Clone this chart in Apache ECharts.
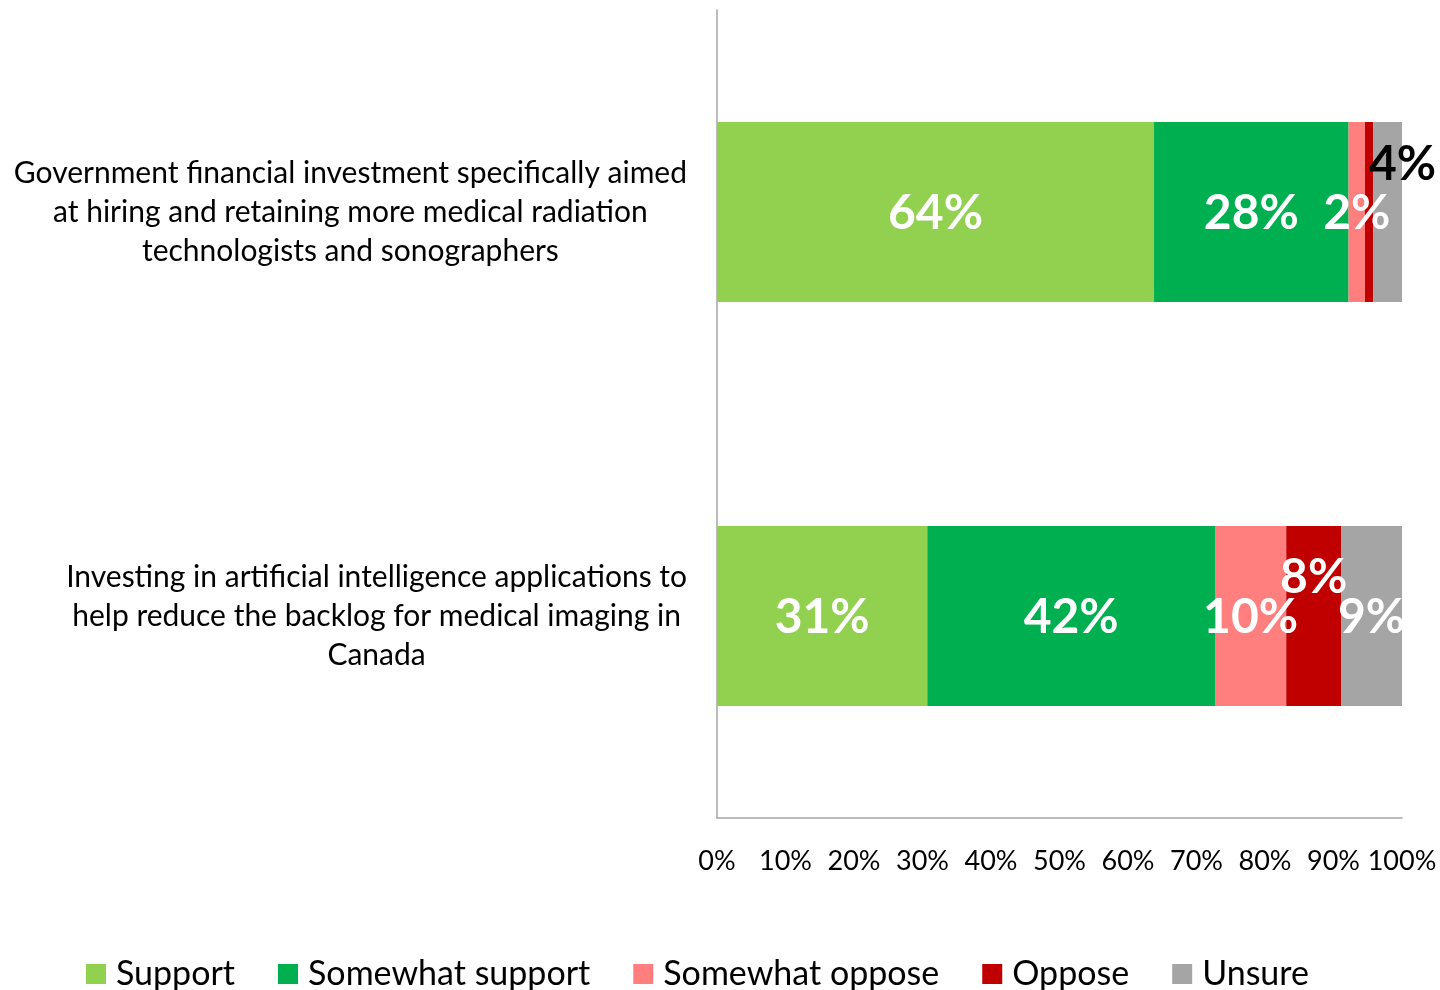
<!DOCTYPE html>
<html>
<head>
    <meta charset="utf-8"/>
    <title></title>
    <script src="https://cdn.jsdelivr.net/npm/echarts@6/dist/echarts.min.js"></script>
</head>
<body style="margin:0">
<div id="chart" style="width:1440px;height:990px;"></div>
<script type="text/javascript">

var categories = [
    'Government financial investment specifically aimed\nat hiring and retaining more medical radiation\ntechnologists and sonographers',
    'Investing in artificial intelligence applications to\nhelp reduce the backlog for medical imaging in\nCanada'
];
var seriesNames = ['Support', 'Somewhat support', 'Somewhat oppose', 'Oppose', 'Unsure'];
var support = [63.8, 30.7];
var somewhatSupport = [28.4, 42.0];
var somewhatOppose = [2.4, 10.4];
var oppose = [1.2, 8.0];
var unsure = [4.2, 8.9];
var tickLabels = ['0%', '10%', '20%', '30%', '40%', '50%', '60%', '70%', '80%', '90%', '100%'];

var colors = ['#92D050', '#00B050', '#FF7F7F', '#C00000', '#A5A5A5'];
var font = 'Lato';

// per-point label tweaks, the way Excel placed them
var labelTweaks = {
    '3-0': { show: false },
    '4-0': { color: '#000', offset: [15, -47] },
    '3-1': { offset: [0, -38] }
};

function buildData(values, si) {
    return values.map(function (v, i) {
        var item = { value: v };
        var t = labelTweaks[si + '-' + i];
        if (t) item.label = t;
        return item;
    });
}

var allValues = [support, somewhatSupport, somewhatOppose, oppose, unsure];
var series = allValues.map(function (vals, si) {
    return {
        name: seriesNames[si],
        type: 'bar',
        stack: 'total',
        barWidth: 180,
        data: buildData(vals, si),
        itemStyle: { color: colors[si] },
        label: {
            show: true,
            position: 'inside',
            offset: [0, 2],
            color: '#fff',
            fontFamily: font,
            fontWeight: 'bold',
            fontSize: 48,
            formatter: function (p) { return Math.round(p.value) + '%'; }
        }
    };
});

var chart = echarts.init(document.getElementById('chart'));
var option = {
    animation: false,
    textStyle: { fontFamily: font },
    grid: { left: 717, right: 38, top: 10, bottom: 172 },
    legend: {
        bottom: -6,
        left: 81,
        itemWidth: 20,
        itemHeight: 20,
        itemGap: 43,
        icon: 'rect',
        data: seriesNames,
        textStyle: { fontFamily: font, fontSize: 34, color: '#000', padding: [0, 0, 0, 5] }
    },
    xAxis: {
        type: 'value',
        min: 0,
        max: 100,
        interval: 10,
        axisLine: { show: true, lineStyle: { color: '#A6A6A6', width: 1.5 } },
        axisTick: { show: false },
        splitLine: { show: false },
        axisLabel: {
            margin: 30,
            fontSize: 27,
            color: '#000',
            fontFamily: font,
            formatter: function (v) { return tickLabels[v / 10]; }
        }
    },
    yAxis: {
        type: 'category',
        inverse: true,
        data: categories,
        axisLine: { show: true, lineStyle: { color: '#A6A6A6', width: 1.5 } },
        axisTick: { show: false },
        axisLabel: {
            margin: 30,
            formatter: function (v) {
                return v.split('\n').map(function (l) { return '{c|' + l + '}'; }).join('\n');
            },
            rich: {
                c: { align: 'center', fontSize: 30, lineHeight: 39, color: '#000', fontFamily: font }
            }
        }
    },
    series: series
};
chart.setOption(option);

</script>
</body>
</html>
